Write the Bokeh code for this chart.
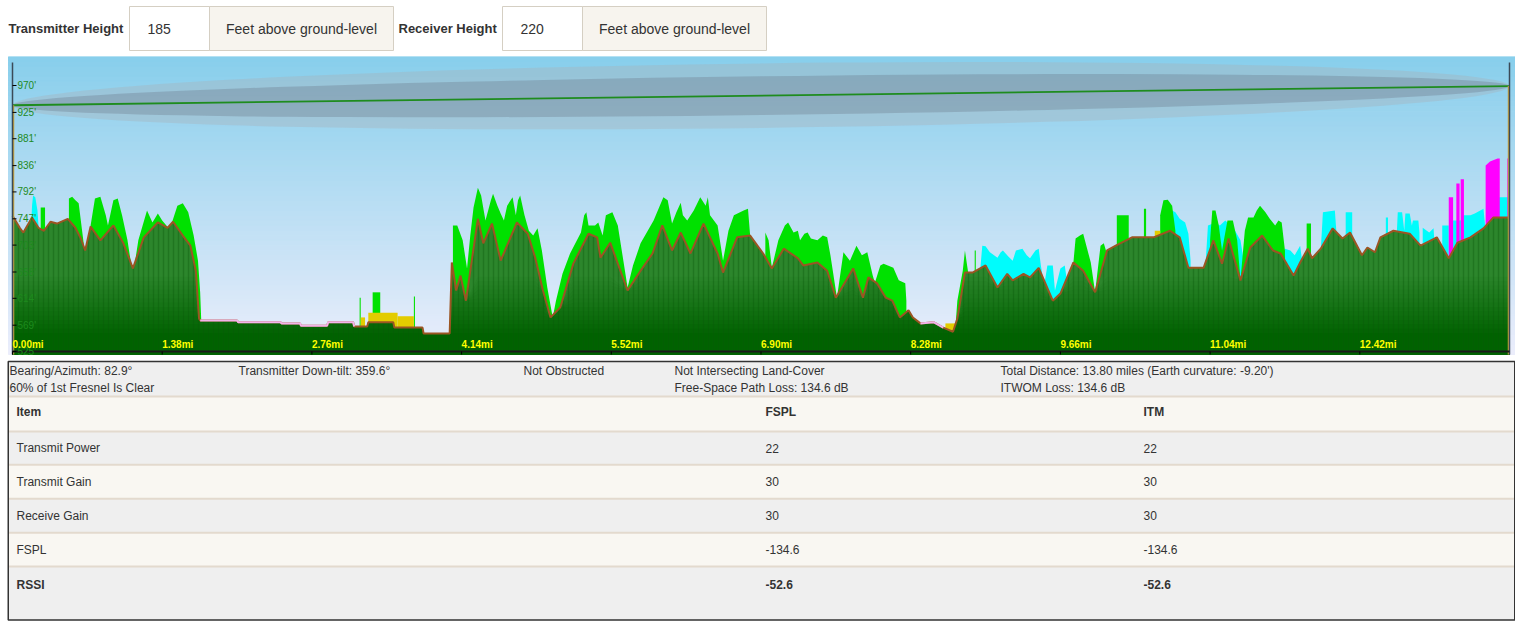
import numpy as np
from bokeh.plotting import figure
from bokeh.models import Range1d
from bokeh.layouts import column
from bokeh.embed import file_html
from bokeh.resources import INLINE
from bokeh.core.properties import value

# ---------------- data ----------------
tx_height_ft = 185
rx_height_ft = 220
height_unit = "Feet above ground-level"
total_distance_mi = 13.80
earth_curvature_ft = -9.20
fresnel_radius_ft = 54
fresnel_clear_fraction = 0.6
bearing_deg = 82.9
downtilt_deg = 359.6
fspl_loss_db = 134.6
itwom_loss_db = 134.6

terrain_mi = [0.00, 0.07, 0.10, 0.18, 0.24, 0.29, 0.35, 0.41, 0.51, 0.58, 0.63, 0.67, 0.72, 0.81, 0.93, 1.02, 1.11, 1.21, 1.34, 1.43, 1.48, 1.57, 1.64, 1.69, 1.72,
              1.73, 2.07, 2.08, 2.47, 2.48, 2.65, 2.66, 2.90, 2.91, 3.14, 3.15, 3.27, 3.28, 3.51, 3.52, 3.78, 3.79, 4.03,
              4.05, 4.09, 4.13, 4.18, 4.29, 4.34, 4.42, 4.50, 4.54, 4.65, 4.75, 4.82, 4.89, 4.96, 5.05, 5.17, 5.31, 5.39,
              5.42, 5.51, 5.67, 5.79, 5.90, 5.99, 6.08, 6.16, 6.25, 6.37, 6.50, 6.55, 6.68, 6.80, 6.92, 7.00, 7.11, 7.24, 7.29, 7.42,
              7.51, 7.59, 7.75, 7.84, 7.89, 7.97, 8.05, 8.11, 8.18, 8.26, 8.30, 8.37, 8.49, 8.58, 8.67,
              8.71, 8.78, 8.85, 8.97, 9.08, 9.17, 9.22, 9.32, 9.38, 9.46, 9.59, 9.66, 9.78, 9.87, 9.98, 10.09, 10.17, 10.32, 10.52, 10.67,
              10.76, 10.84, 10.98, 11.07, 11.15, 11.21, 11.32, 11.41, 11.52, 11.62, 11.69, 11.81,
              11.87, 11.94, 11.98, 12.06, 12.17, 12.26, 12.33, 12.44, 12.49, 12.56, 12.61, 12.73, 12.88, 12.98, 13.13, 13.24, 13.32,
              13.44, 13.56, 13.65, 13.80]
terrain_ft = [752, 731, 724, 749, 732, 727, 742, 739, 747, 732, 714, 694, 734, 711, 736, 707, 664, 716, 741, 732, 742, 719, 702, 660, 580,
              577, 577, 574, 574, 572, 572, 568, 568, 574, 574, 567, 567, 574, 574, 565, 565, 555, 555,
              674, 627, 652, 610, 747, 706, 739, 677, 694, 741, 722, 681, 627, 582, 599, 672, 722, 716,
              682, 707, 627, 660, 689, 736, 694, 724, 689, 739, 689, 657, 716, 719, 689, 664, 697, 681, 669, 674,
              660, 615, 664, 615, 649, 639, 615, 610, 582, 594, 582, 572, 574, 565, 558,
              580, 657, 657, 669, 632, 655, 644, 655, 649, 665, 610, 622, 674, 660, 624, 694, 702, 716, 716, 727,
              716, 665, 665, 711, 672, 714, 644, 699, 719, 694, 689, 652,
              674, 697, 681, 697, 731, 714, 724, 686, 699, 691, 716, 727, 722, 702, 716, 681, 707,
              716, 731, 749, 749]

# tree canopy (bright green) tops
green_patch_mi = [
    [0.52, 0.55, 0.58, 0.61, 0.67, 0.72, 0.76, 0.81, 0.86, 0.88, 0.93, 0.97, 1.01, 1.06, 1.11, 1.16, 1.24, 1.29, 1.34, 1.38,
     1.44, 1.47, 1.52, 1.57, 1.62, 1.67, 1.71, 1.73, 1.74],
    [4.06, 4.10, 4.15, 4.19, 4.22, 4.25, 4.29, 4.32, 4.36, 4.41, 4.43, 4.47, 4.50, 4.53, 4.56, 4.61, 4.64, 4.66, 4.68, 4.72,
     4.76, 4.80, 4.84, 4.88, 4.93, 4.98, 5.01, 5.07, 5.14, 5.24, 5.27, 5.29, 5.31, 5.37, 5.40, 5.44, 5.47, 5.53, 5.58, 5.67,
     5.72, 5.79, 5.91, 6.00, 6.04, 6.08, 6.12, 6.16, 6.18, 6.22, 6.28, 6.34, 6.39, 6.41, 6.43, 6.50, 6.55, 6.60, 6.65, 6.74,
     6.78, 6.80, 6.81],
    [6.94, 6.97, 7.00, 7.06, 7.12, 7.15, 7.20, 7.24, 7.26, 7.30, 7.33, 7.36, 7.42, 7.47, 7.51, 7.54, 7.60, 7.66, 7.72, 7.78,
     7.83, 7.88, 7.93, 7.95, 8.00, 8.03, 8.07, 8.12, 8.17, 8.23, 8.24],
    [8.69, 8.71, 8.76, 8.78, 8.80, 8.81],
    [9.78, 9.80, 9.84, 9.87, 9.94, 9.98, 10.03, 10.06, 10.08],
    [10.58, 10.61, 10.65, 10.69, 10.72],
    [11.04, 11.06, 11.09, 11.12, 11.15, 11.20, 11.25, 11.29, 11.32, 11.36, 11.39, 11.44, 11.47, 11.50, 11.55, 11.59, 11.64,
     11.67, 11.70, 11.73],
]
green_patch_ft = [
    [781, 784, 778, 773, 686, 736, 781, 784, 753, 736, 778, 781, 753, 711, 652, 711, 761, 741, 756, 744,
     731, 741, 769, 773, 758, 719, 677, 624, 577],
    [736, 736, 711, 664, 719, 766, 799, 786, 744, 778, 789, 769, 756, 744, 769, 783, 753, 778, 786, 753,
     727, 719, 731, 694, 632, 582, 610, 655, 689, 724, 753, 758, 736, 736, 741, 719, 753, 758, 736, 632,
     669, 706, 744, 783, 778, 739, 758, 774, 753, 744, 761, 783, 769, 783, 753, 736, 677, 727, 753, 761,
     764, 719, 694],
    [724, 711, 665, 711, 736, 741, 724, 727, 711, 722, 724, 714, 711, 719, 716, 686, 615, 691, 677, 702,
     686, 691, 652, 640, 669, 672, 669, 665, 644, 639, 610],
    [560, 610, 660, 694, 669, 657],
    [674, 714, 719, 722, 674, 624, 702, 706, 694],
    [753, 778, 779, 769, 727],
    [711, 761, 761, 736, 694, 744, 744, 711, 644, 727, 749, 749, 761, 769, 758, 747, 736, 744, 741, 694],
]
green_bar_left = [0.26, 3.20, 3.32, 3.70, 8.87, 10.18, 10.43, 11.93]
green_bar_right = [0.30, 3.21, 3.39, 3.71, 8.88, 10.29, 10.45, 11.97]
green_bar_top = [766, 615, 624, 617, 694, 753, 764, 739]

# buildings (cyan) tops
cyan_patch_mi = [
    [0.17, 0.18, 0.19, 0.21, 0.23, 0.24],
    [8.92, 8.94, 8.97, 9.01, 9.08, 9.11, 9.13, 9.18, 9.22, 9.25, 9.31, 9.35, 9.38, 9.43, 9.46, 9.48, 9.51, 9.54, 9.59, 9.61,
     9.66, 9.70, 9.72],
    [10.65, 10.69, 10.72, 10.76, 10.81, 10.84, 10.86],
    [11.00, 11.02, 11.09, 11.13, 11.18, 11.23, 11.27, 11.32, 11.35],
    [11.71, 11.73, 11.78, 11.82, 11.87, 11.89],
    [12.06, 12.08, 12.19, 12.21],
    [12.76, 12.77, 12.81, 12.83, 12.84, 12.88, 12.90, 12.91, 12.96, 12.97],
    [13.00, 13.06, 13.10, 13.11],
    [13.28, 13.35, 13.37, 13.44, 13.48, 13.56, 13.58],
]
cyan_patch_ft = [
    [727, 769, 786, 783, 761, 736],
    [660, 702, 701, 691, 682, 691, 694, 684, 677, 694, 697, 686, 681, 694, 697, 669, 635, 669, 669, 627,
     664, 669, 644],
    [727, 761, 758, 747, 741, 722, 677],
    [677, 736, 741, 736, 744, 736, 727, 711, 677],
    [686, 697, 694, 686, 702, 674],
    [694, 758, 761, 711],
    [719, 758, 758, 727, 756, 756, 736, 744, 744, 724],
    [732, 724, 731, 702],
    [744, 744, 753, 753, 756, 764, 727],
]
cyan_bar_left = [12.29, 12.66, 13.18, 13.70]
cyan_bar_right = [12.35, 12.68, 13.24, 13.79]
cyan_bar_top = [758, 749, 736, 783]

# magenta obstructions
magenta_bar_left = [13.24, 13.31, 13.35, 13.78]
magenta_bar_right = [13.28, 13.34, 13.38, 13.80]
magenta_bar_top = [783, 806, 813, 848]
magenta_patch_mi = [[13.58, 13.62, 13.69, 13.71]]
magenta_patch_ft = [[836, 843, 848, 848]]

# yellow land-cover
yellow_left = [3.21, 3.28, 3.55, 8.60, 10.53]
yellow_right = [3.25, 3.55, 3.70, 8.69, 10.58]
yellow_top = [582, 590, 584, 572, 727]

# pink ground marking on flat stretches
pink_spans = [[1.73, 3.15], [8.37, 8.58]]

y_ticks = [525, 569, 614, 658, 703, 747, 792, 836, 881, 925, 970]
x_ticks = [0.00, 1.38, 2.76, 4.14, 5.52, 6.90, 8.28, 9.66, 11.04, 12.42]

table_items = ["Transmit Power", "Transmit Gain", "Receive Gain", "FSPL", "RSSI"]
fspl_values = [22, 30, 30, -134.6, -52.6]
itm_values = [22, 30, 30, -134.6, -52.6]

# ---------------- layout ----------------
FONT = value("Liberation Sans")
W = 1515
HEAD_H, CHART_H, TABLE_H = 56, 302, 264
TXT = "#333333"


def blank_fig(h, xr, yr, bg="white"):
    p = figure(width=W, height=h, x_range=xr, y_range=yr, output_backend="svg",
               toolbar_location=None, min_border=0, x_axis_location=None, y_axis_location=None)
    p.grid.visible = False
    p.outline_line_color = None
    p.background_fill_color = bg
    p.border_fill_color = "white"
    return p


def txt(p, x, y, s, size="12px", bold=False, align="left", color=TXT, **kw):
    p.text(x=x, y=y, text=s, text_font=FONT, text_font_size=size,
           text_font_style="bold" if bold else "normal", text_align=align,
           text_baseline=kw.pop("baseline", "middle"), text_color=color, **kw)


# ---- header (form) ----
head = blank_fig(HEAD_H, Range1d(0, W), Range1d(HEAD_H, 0))
head.quad(left=[129, 502], right=[209, 582], top=[6, 6], bottom=[50, 50],
          fill_color="white", line_color="#d5cfc3", line_width=1)
head.quad(left=[209, 582], right=[393, 766], top=[6, 6], bottom=[50, 50],
          fill_color="#f7f4ee", line_color="#d5cfc3", line_width=1)
txt(head, [8], [28], ["Transmitter Height"], size="13px", bold=True)
txt(head, [398], [28], ["Receiver Height"], size="13px", bold=True)
txt(head, [147, 520], [28, 28], [str(tx_height_ft), str(rx_height_ft)], size="14px")
txt(head, [301, 674], [28, 28], [height_unit, height_unit], size="14px", align="center")

# ---- chart ----
px_per_mi = 1497 / total_distance_mi
px_per_ft = 1 / 1.673
x_start = -12 / px_per_mi
x_end = x_start + W / px_per_mi
sky_left = -4 / px_per_mi
floor = y_ticks[0] - 3 / px_per_ft
y_start = y_ticks[0] - 7 / px_per_ft
y_end = y_start + CHART_H / px_per_ft

chart = blank_fig(CHART_H, Range1d(x_start, x_end), Range1d(y_start, y_end), bg="white")

# sky gradient
nb = 60
edges = np.linspace(floor, y_end, nb + 1)
c_bot = np.array([236, 238, 252])
c_top = np.array([136, 207, 236])
sky_cols = []
for i in range(nb):
    t = (i + 0.5) / nb
    c = (c_bot * (1 - t) + c_top * t).astype(int)
    sky_cols.append("#%02x%02x%02x" % tuple(c))
chart.quad(left=sky_left, right=x_end, bottom=edges[:-1], top=edges[1:],
           fill_color=sky_cols, line_color=sky_cols, line_width=1)

# Fresnel zone + line of sight
tx_elev = terrain_ft[0] + tx_height_ft
rx_elev = terrain_ft[-1] + rx_height_ft
cx = total_distance_mi / 2
cy = (tx_elev + rx_elev) / 2
ang = float(np.arctan2((rx_elev - tx_elev) * px_per_ft, total_distance_mi * px_per_mi))
chart.ellipse(x=[cx], y=[cy], width=[total_distance_mi], height=[2 * fresnel_radius_ft], angle=ang,
              fill_color="#a9aeb4", fill_alpha=0.35, line_color=None)
chart.ellipse(x=[cx], y=[cy], width=[total_distance_mi],
              height=[2 * fresnel_radius_ft * fresnel_clear_fraction], angle=ang,
              fill_color="#646e7d", fill_alpha=0.3, line_color=None)
chart.line([0, total_distance_mi], [tx_elev, rx_elev], line_color="#1e8c1e", line_width=1.8)


def closed(segs_mi, segs_ft):
    xs = [[m[0]] + list(m) + [m[-1]] for m in segs_mi]
    ys = [[floor] + list(f) + [floor] for f in segs_ft]
    return xs, ys


# land cover (drawn below the terrain so only the part above ground shows)
xs, ys = closed(cyan_patch_mi, cyan_patch_ft)
chart.patches(xs, ys, fill_color="#00fcfc", line_color=None)
chart.quad(left=cyan_bar_left, right=cyan_bar_right, bottom=floor, top=cyan_bar_top,
           fill_color="#00fcfc", line_color=None)
xs, ys = closed(green_patch_mi, green_patch_ft)
chart.patches(xs, ys, fill_color="#00e100", line_color=None)
chart.quad(left=green_bar_left, right=green_bar_right, bottom=floor, top=green_bar_top,
           fill_color="#00e100", line_color=None)
chart.quad(left=yellow_left, right=yellow_right, bottom=floor, top=yellow_top,
           fill_color="#e3cc00", line_color=None)
xs, ys = closed(magenta_patch_mi, magenta_patch_ft)
chart.patches(xs, ys, fill_color="#ff00ff", line_color=None)
chart.quad(left=magenta_bar_left, right=magenta_bar_right, bottom=floor, top=magenta_bar_top,
           fill_color="#ff00ff", line_color=None)

# terrain with vertical colour gradient
t_mi = np.array(terrain_mi)
t_ft = np.array(terrain_ft, dtype=float)
g_top = np.array([44, 134, 44])
g_bot = np.array([0, 98, 0])
chart.varea(x=t_mi, y1=floor, y2=t_ft, fill_color="#%02x%02x%02x" % tuple(g_top))
levels = np.linspace(650, 556, 14)
for i, lev in enumerate(levels):
    t = (i + 1) / len(levels)
    c = (g_top * (1 - t) + g_bot * t).astype(int)
    chart.varea(x=t_mi, y1=floor, y2=np.minimum(t_ft, lev), fill_color="#%02x%02x%02x" % tuple(c))
chart.varea(x=t_mi, y1=floor, y2=t_ft, fill_alpha=0, hatch_pattern="|", hatch_color="#0a560a",
            hatch_alpha=0.35, hatch_scale=5, hatch_weight=1.5)
chart.line(t_mi, t_ft, line_color="#9b5523", line_width=2)
for a, b in pink_spans:
    m = (t_mi >= a) & (t_mi <= b)
    chart.line(t_mi[m], t_ft[m], line_color="#f2b3ea", line_width=2)

# masts and axes
one_px = 1 / px_per_mi
axis_top = y_end - 6 / px_per_ft
chart.segment(x0=[one_px, total_distance_mi - one_px], y0=[floor, floor],
              x1=[one_px, total_distance_mi - one_px], y1=[tx_elev, rx_elev],
              line_color="#c9a43e", line_width=1.5)
chart.segment(x0=[0, total_distance_mi], y0=[floor, floor], x1=[0, total_distance_mi], y1=[axis_top, axis_top],
              line_color="#3b4a57", line_width=1.5)
chart.segment(x0=0, y0=y_ticks[0], x1=total_distance_mi, y1=y_ticks[0], line_color="#1a1a1a", line_width=2)
chart.segment(x0=0, y0=y_ticks, x1=4 / px_per_mi, y1=y_ticks, line_color="black", line_width=1)
chart.segment(x0=x_ticks, y0=y_ticks[0], x1=x_ticks, y1=floor, line_color="black", line_width=1)
txt(chart, [0] * len(y_ticks), y_ticks, ["%d'" % v for v in y_ticks], size="10px",
    color="#1d8a1d", x_offset=5)
txt(chart, x_ticks, [y_ticks[0]] * len(x_ticks), ["%.2fmi" % v for v in x_ticks], size="10px",
    bold=True, color="#ffff00", baseline="bottom", y_offset=-2)

# ---- table (coordinates: page y - 358) ----
table = blank_fig(TABLE_H, Range1d(0, W), Range1d(TABLE_H, 0))
row_top = [3, 38, 73, 106.3, 140.3, 174.3, 208]
row_bot = [38, 73, 106.3, 140.3, 174.3, 208, 261.5]
row_col = ["#efefef", "#f9f7f2", "#efefef", "#f9f7f2", "#efefef", "#f9f7f2", "#efefef"]
table.quad(left=7.5, right=1514.5, top=row_top, bottom=row_bot, fill_color=row_col, line_color=None)
table.segment(x0=7.5, x1=1514.5, y0=row_top[1:], y1=row_top[1:], line_color="#e3dace", line_width=2)
table.quad(left=[7.75], right=[1514.25], top=[3], bottom=[261.5], fill_color=None,
           line_color="#333333", line_width=1.5)

info1 = ["Bearing/Azimuth: %.1f°" % bearing_deg, "Transmitter Down-tilt: %.1f°" % downtilt_deg,
         "Not Obstructed", "Not Intersecting Land-Cover",
         "Total Distance: %.2f miles (Earth curvature: %.2f')" % (total_distance_mi, earth_curvature_ft)]
info2 = ["%d%% of 1st Fresnel Is Clear" % round(fresnel_clear_fraction * 100),
         "Free-Space Path Loss: %.1f dB" % fspl_loss_db, "ITWOM Loss: %.1f dB" % itwom_loss_db]
txt(table, [9, 238, 523, 674, 1000], [12] * 5, info1)
txt(table, [9, 674, 1000], [29] * 3, info2)
txt(table, [16, 765, 1143], [53] * 3, ["Item", "FSPL", "ITM"], bold=True)
row_y = [89.5, 123, 157, 191, 226]
txt(table, [16] * 4, row_y[:4], table_items[:4])
txt(table, [765] * 4, row_y[:4], [str(v) for v in fspl_values[:4]])
txt(table, [1143] * 4, row_y[:4], [str(v) for v in itm_values[:4]])
txt(table, [16, 765, 1143], [row_y[4]] * 3, [table_items[4], str(fspl_values[4]), str(itm_values[4])], bold=True)

page = column(head, chart, table)
open("out.html", "w").write(file_html(page, INLINE))
